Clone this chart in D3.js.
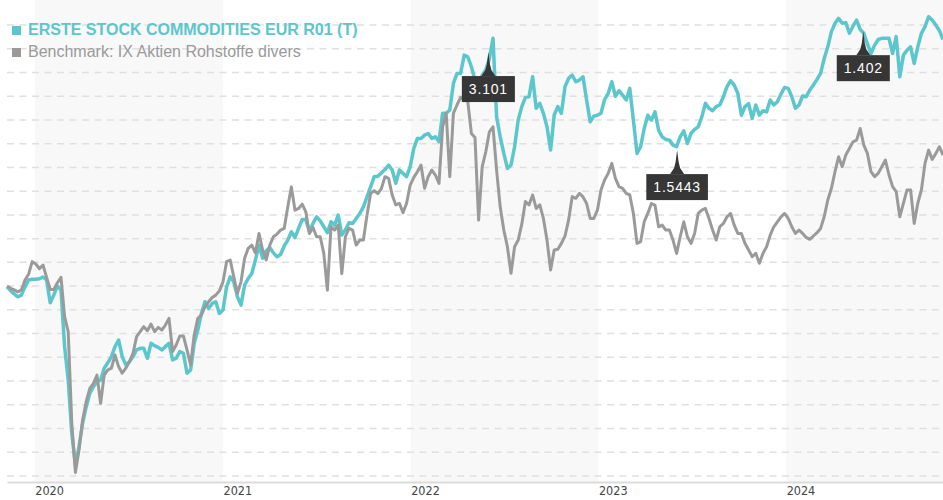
<!DOCTYPE html>
<html lang="de">
<head>
    <meta charset="UTF-8">
    <title>ERSTE STOCK COMMODITIES EUR R01 (T)</title>
    <script type="text/javascript" src="https://cdn.jsdelivr.net/npm/d3@7/dist/d3.min.js"></script>
    <style type="text/css">
        body { margin: 0; background: #fff; }
        svg { display: block; }
    </style>
</head>
<body>
    <script type="text/javascript">
        //Width and height
        var w = 943;
        var h = 500;

        //Weekly points, first one on 8 Nov 2019
        var startDate = new Date(2019, 10, 8);

        var fundValues = [
            79.7, 78.1, 76.7, 75.5, 76.2, 79.7, 82.6, 82.9, 82.9, 83.1,
            83.8, 82.6, 73.0, 76.2, 80.0, 78.3, 54.5, 40.4, 18.0, 4.5,
            12.3, 22.2, 29.2, 34.8, 37.6, 39.7, 40.4, 45.4, 47.7, 50.3,
            54.5, 57.3, 50.3, 46.8, 48.1, 50.3, 53.1, 53.8, 53.8, 49.6,
            55.9, 54.9, 54.2, 53.1, 54.5, 55.9, 48.9, 49.6, 52.4, 51.7,
            43.3, 44.7, 55.9, 61.5,
            68.5, 73.4, 70.6, 72.7, 73.4, 68.5, 69.9, 79.7, 83.9, 81.8,
            75.5, 72.0, 80.4, 83.2, 85.3, 91.0, 97.3, 91.7, 94.9, 96.3,
            94.0, 92.4, 93.3, 96.9, 99.4, 102.9, 100.5, 104.3, 108.1, 108.1,
            102.9, 106.4, 109.2, 107.5, 105.0, 102.5, 107.1, 105.7, 109.9, 101.5,
            103.6, 106.7, 106.4, 108.5, 110.6, 113.4, 117.6, 121.8, 126.1, 126.3,
            127.7, 129.1, 131.0,
            128.9, 123.3, 128.9, 127.5, 126.1, 130.3, 138.0, 142.2, 142.2, 143.6,
            144.3, 142.2, 142.9, 140.8, 152.8, 152.8, 154.2, 165.4, 169.6, 169.6,
            177.3, 176.6, 172.4, 166.8, 165.4, 168.9, 171.0, 175.9, 184.4, 151.4,
            142.9, 135.9, 129.6, 131.0, 138.7, 150.0, 155.6, 159.5, 159.8, 168.2,
            154.9, 157.0, 152.8, 147.1, 137.3, 152.1, 155.6, 152.8, 164.0, 167.5,
            168.9, 166.1, 166.8,
            168.2, 158.4, 149.2, 151.6, 152.0, 152.8, 158.6, 161.2, 166.1, 160.0,
            162.3, 160.5, 158.4, 163.3, 149.9, 135.9, 138.7, 146.4, 152.0, 149.9,
            153.4, 145.7, 142.9, 141.8, 141.5, 139.4, 138.7, 142.9, 145.4, 140.1,
            144.3, 146.0, 147.1, 151.3, 157.0, 154.9, 153.9, 155.6, 156.3, 159.8,
            164.0, 166.5, 164.7, 161.2, 152.0, 155.6, 156.9, 150.6, 156.3, 152.0,
            153.9, 153.4,
            158.4, 156.3, 157.7, 160.9, 163.7, 163.3, 159.8, 154.9, 156.3, 160.1,
            159.8, 162.6, 164.7, 167.1, 169.6, 175.9, 180.8, 187.2, 190.7, 192.8,
            190.7, 191.0, 186.5, 189.5, 192.1, 188.1, 186.5, 182.0, 178.0, 181.5,
            183.9, 184.4, 184.4, 184.4, 178.0, 185.1, 168.2, 177.3, 179.4, 180.8,
            173.8, 180.8, 186.5, 189.3, 193.5, 192.1, 190.0, 187.6, 183.9
        ];

        var benchValues = [
            80.0, 79.1, 78.4, 77.6, 78.4, 82.6, 85.0, 90.3, 89.3, 87.3,
            88.9, 83.7, 78.6, 78.6, 81.4, 83.7, 67.1, 60.8, 22.2, 1.5,
            10.9, 23.6, 31.3, 36.9, 39.0, 42.5, 30.6, 42.5, 44.7, 45.4,
            51.0, 46.1, 43.3, 45.4, 48.1, 51.7, 58.7, 60.8, 62.9, 61.2,
            64.0, 60.8, 62.6, 61.5, 63.6, 66.4, 52.4, 55.2, 59.0, 59.0,
            53.1, 46.8, 59.4, 66.4,
            67.8, 71.3, 73.4, 75.2, 76.2, 78.0, 81.8, 90.3, 91.0, 83.9,
            76.9, 81.8, 91.7, 95.9, 97.3, 94.0, 102.2, 95.2, 91.0, 97.3,
            100.8, 101.9, 103.6, 104.3, 113.4, 121.8, 112.0, 112.7, 114.5, 111.3,
            102.2, 104.7, 100.8, 100.8, 93.8, 78.3, 105.0, 103.6, 105.7, 85.3,
            100.8, 104.3, 103.6, 97.3, 99.4, 99.4, 109.9, 119.0, 120.2, 119.0,
            121.1, 126.1, 125.4,
            118.4, 114.2, 114.9, 110.9, 114.9, 122.6, 125.8, 128.2, 131.0, 121.2,
            126.1, 128.9, 126.8, 123.3, 147.1, 152.8, 126.1, 152.8, 156.3, 159.5,
            158.4, 157.7, 144.3, 142.6, 107.8, 130.3, 136.6, 145.0, 147.1, 128.9,
            113.4, 103.6, 96.6, 85.4, 96.6, 99.4, 106.1, 115.6, 114.2, 118.4,
            112.7, 114.2, 108.5, 99.4, 86.8, 95.2, 95.5, 98.0, 101.1, 107.8,
            117.7, 117.0, 119.1,
            117.6, 114.8, 108.5, 108.5, 112.0, 120.5, 124.7, 127.5, 131.7, 125.4,
            121.9, 121.2, 119.1, 118.4, 110.6, 98.0, 98.7, 107.1, 110.6, 114.8,
            114.1, 105.0, 105.7, 103.6, 103.6, 99.4, 93.8, 100.8, 107.1, 100.8,
            98.0, 102.2, 110.6, 112.0, 112.7, 108.5, 103.6, 99.4, 105.0, 106.4,
            109.2, 110.6, 105.7, 102.2, 102.2, 98.0, 95.2, 92.4, 93.8, 89.6,
            93.8, 96.6,
            101.5, 105.0, 107.1, 109.2, 110.6, 108.5, 105.0, 102.2, 103.6, 102.2,
            100.5, 99.7, 101.1, 102.5, 104.3, 109.2, 116.3, 121.2, 128.2, 134.5,
            130.3, 135.2, 138.0, 140.8, 141.5, 146.4, 139.4, 135.9, 128.2, 126.1,
            127.5, 130.3, 133.1, 126.8, 121.9, 119.8, 109.2, 114.9, 120.5, 120.5,
            106.4, 114.9, 120.5, 131.7, 137.3, 133.4, 135.9, 138.7, 135.2
        ];

        var seriesNames = ["ERSTE STOCK COMMODITIES EUR R01 (T)", "Benchmark: IX Aktien Rohstoffe divers"];
        var yearLabels = ["2020", "2021", "2022", "2023", "2024"];
        var shadedYears = [2020, 2022, 2024];
        var gridValues = d3.range(0, 200, 10);

        var noteDates = ["2022-06-01", "2023-06-03", "2024-05-30"];
        var noteValues = [178.6, 137.3, 187.4];
        var noteLabels = ["3.101", "1.5443", "1.402"];

        var tealColor = "#5cc6cd";
        var greyColor = "#9a9a9a";

        var dates = fundValues.map(function(d, i) {
            return d3.timeDay.offset(startDate, i * 7);
        });
        var parseDate = d3.timeParse("%Y-%m-%d");

        var left = 7, right = 943, bottom = 482;

        //Create scale functions
        var xScale = d3.scaleTime()
            .domain([dates[0], dates[dates.length - 1]])
            .range([left, right]);

        var yScale = d3.scaleLinear()
            .domain([0, 190])
            .range([476, 25]);

        //Create SVG element
        var svg = d3.select("body")
            .append("svg")
            .attr("width", w)
            .attr("height", h);

        //Shaded years
        svg.selectAll("rect.band")
            .data(shadedYears)
            .enter()
            .append("rect")
            .attr("class", "band")
            .attr("x", function(d) { return xScale(new Date(d, 0, 1)); })
            .attr("y", 0)
            .attr("width", function(d) {
                return Math.min(xScale(new Date(d + 1, 0, 1)), right) - xScale(new Date(d, 0, 1));
            })
            .attr("height", bottom)
            .attr("fill", "#f8f8f8");

        //Dashed grid
        svg.selectAll("line.grid")
            .data(gridValues)
            .enter()
            .append("line")
            .attr("class", "grid")
            .attr("x1", left)
            .attr("x2", right)
            .attr("y1", function(d) { return yScale(d); })
            .attr("y2", function(d) { return yScale(d); })
            .attr("stroke", "#e0e0e0")
            .attr("stroke-width", 1.5)
            .attr("stroke-dasharray", "7,5.5");

        //Axis
        var xAxis = d3.axisBottom(xScale)
            .tickValues(yearLabels.map(function(d) { return new Date(+d, 0, 1); }))
            .tickFormat(d3.timeFormat("%Y"))
            .tickSize(0)
            .tickSizeOuter(0)
            .tickPadding(4);

        var axisG = svg.append("g")
            .attr("transform", "translate(0," + bottom + ")")
            .call(xAxis);
        axisG.select(".domain")
            .attr("stroke", "#dcdcdc")
            .attr("stroke-width", 2);
        axisG.selectAll("text")
            .attr("text-anchor", "start")
            .attr("font-family", "DejaVu Sans Condensed, DejaVu Sans, sans-serif")
            .attr("font-size", "12.5px")
            .attr("fill", "#444");

        //Lines
        var line = d3.line()
            .x(function(d, i) { return xScale(dates[i]); })
            .y(function(d) { return yScale(d); });

        svg.append("path")
            .datum(fundValues)
            .attr("d", line)
            .attr("fill", "none")
            .attr("stroke", tealColor)
            .attr("stroke-width", 3.5)
            .attr("stroke-linejoin", "round");

        svg.append("path")
            .datum(benchValues)
            .attr("d", line)
            .attr("fill", "none")
            .attr("stroke", greyColor)
            .attr("stroke-width", 3)
            .attr("stroke-linejoin", "round");

        //Legend
        var legend = svg.selectAll("g.legend")
            .data(seriesNames)
            .enter()
            .append("g")
            .attr("class", "legend")
            .attr("transform", function(d, i) { return "translate(12," + (26 + i * 22) + ")"; });

        legend.append("rect")
            .attr("width", 9)
            .attr("height", 9)
            .attr("fill", function(d, i) { return i === 0 ? tealColor : greyColor; });

        legend.append("text")
            .text(function(d) { return d; })
            .attr("x", 16)
            .attr("y", 9)
            .attr("font-family", "Liberation Sans, Arial, sans-serif")
            .attr("font-size", "16px")
            .attr("font-weight", function(d, i) { return i === 0 ? "bold" : "normal"; })
            .attr("fill", function(d, i) { return i === 0 ? tealColor : greyColor; });

        //Annotations
        var notes = svg.selectAll("g.note")
            .data(noteLabels)
            .enter()
            .append("g")
            .attr("class", "note")
            .attr("transform", function(d, i) {
                return "translate(" + xScale(parseDate(noteDates[i])) + "," + yScale(noteValues[i]) + ")";
            });

        notes.append("path")
            .attr("d", "M0,0 L1.5,12 L3,18 L7,24 L-7,24 L-3,18 L-1.5,12 Z")
            .attr("fill", "#363636");

        var noteBox = notes.append("rect")
            .attr("y", 24)
            .attr("height", 26)
            .attr("fill", "#363636");

        var noteText = notes.append("text")
            .text(function(d) { return d; })
            .attr("x", 0)
            .attr("y", 42)
            .attr("text-anchor", "middle")
            .attr("font-family", "Liberation Sans, Arial, sans-serif")
            .attr("font-size", "14px")
            .attr("letter-spacing", "0.8px")
            .attr("fill", "#fff");

        noteText.each(function(d, i) {
            var bw = this.getComputedTextLength() + 14;
            d3.select(noteBox.nodes()[i])
                .attr("x", -bw / 2)
                .attr("width", bw);
        });
    </script>
</body>
</html>
